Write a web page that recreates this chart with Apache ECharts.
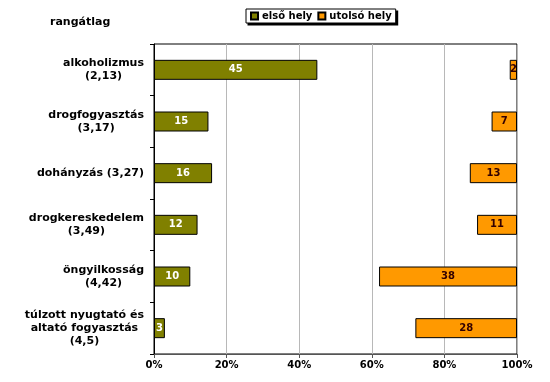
<!DOCTYPE html>
<html>
<head>
<meta charset="utf-8">
<script src="https://cdn.jsdelivr.net/npm/echarts@6/dist/echarts.min.js"></script>
<style>html,body{margin:0;padding:0;background:#fff}#c{width:550px;height:382px}</style>
</head>
<body>
<div id="c"></div>
<script>
const categories = [
  "alkoholizmus\n(2,13)",
  "drogfogyasztás\n(3,17)",
  "dohányzás (3,27)",
  "drogkereskedelem\n(3,49)",
  "öngyilkosság\n(4,42)",
  "túlzott nyugtató és\naltató fogyasztás\n(4,5)"
];
const firstPlace = [45, 15, 16, 12, 10, 3];
const lastPlace = [2, 7, 13, 11, 38, 28];
const xTicks = [0, 20, 40, 60, 80, 100];
const seriesNames = ["első hely", "utolsó hely"];

const FONT = "DejaVu Sans";
const chart = echarts.init(document.getElementById('c'), null, {renderer: 'canvas'});
chart.setOption({
  animation: false,
  textStyle: {fontFamily: FONT},
  title: {
    text: "rangátlag", left: 50, top: 17, padding: 0,
    textStyle: {fontSize: 11, fontWeight: 'bold', color: '#000', fontFamily: FONT}
  },
  legend: {
    data: seriesNames,
    left: 246, top: 9,
    orient: 'horizontal',
    backgroundColor: '#fff',
    borderColor: '#000', borderWidth: 1,
    padding: [2, 4],
    itemWidth: 7, itemHeight: 7, itemGap: 5,
    icon: 'rect',
    textStyle: {fontSize: 10, fontWeight: 'bold', color: '#000', fontFamily: FONT, padding: [0, 0, 0, -1]}
  },
  grid: {
    left: 154, right: 33, top: 44, bottom: 28,
    show: true, borderColor: '#000', borderWidth: 1, backgroundColor: 'transparent'
  },
  xAxis: [{
    type: 'value', min: xTicks[0], max: xTicks[xTicks.length - 1], interval: 20,
    axisLine: {show: true, lineStyle: {color: '#555'}},
    axisTick: {show: true, length: 4, lineStyle: {color: '#555'}},
    axisLabel: {formatter: '{value}%', fontSize: 10, fontWeight: 'bold', color: '#000', margin: 6, fontFamily: FONT},
    splitLine: {show: true, lineStyle: {color: '#b8b8b8'}}
  }, {
    type: 'value', min: 0, max: 100, inverse: true, show: false,
    splitLine: {show: false}
  }],
  yAxis: {
    type: 'category', data: categories, inverse: true,
    axisLine: {show: true, lineStyle: {color: '#000'}},
    axisTick: {show: true, length: 4, lineStyle: {color: '#000'}},
    axisLabel: {
      margin: 10, align: 'right',
      formatter: v => v.split('\n').map(l => '{c|' + l + '}').join('\n'),
      rich: {c: {align: 'center', fontSize: 11, fontWeight: 'bold', color: '#000', lineHeight: 13, fontFamily: FONT}}
    }
  },
  series: [{
    name: seriesNames[0], type: 'bar', xAxisIndex: 0, data: firstPlace,
    barWidth: 20, barGap: '-100%',
    itemStyle: {color: '#808000', borderColor: '#000', borderWidth: 1},
    label: {show: true, position: 'inside', color: '#fff', fontSize: 10, fontWeight: 'bold', fontFamily: FONT}
  }, {
    name: seriesNames[1], type: 'bar', xAxisIndex: 1, data: lastPlace,
    barWidth: 20, barGap: '-100%',
    itemStyle: {color: '#FF9900', borderColor: '#000', borderWidth: 1},
    label: {show: true, position: 'inside', color: '#330000', fontSize: 10, fontWeight: 'bold', fontFamily: FONT}
  }]
});
// drop shadow behind the legend box, sized from the legend's rendered rect
const legendView = chart.getViewOfComponentModel(chart.getModel().getComponent('legend'));
const r = legendView.group.getBoundingRect();
const gx = legendView.group.x, gy = legendView.group.y;
chart.setOption({
  graphic: [{
    type: 'rect', z: 0, silent: true,
    shape: {x: gx + r.x + 2, y: gy + r.y + 2, width: r.width, height: r.height},
    style: {fill: '#000'}
  }]
});
</script>
</body>
</html>
